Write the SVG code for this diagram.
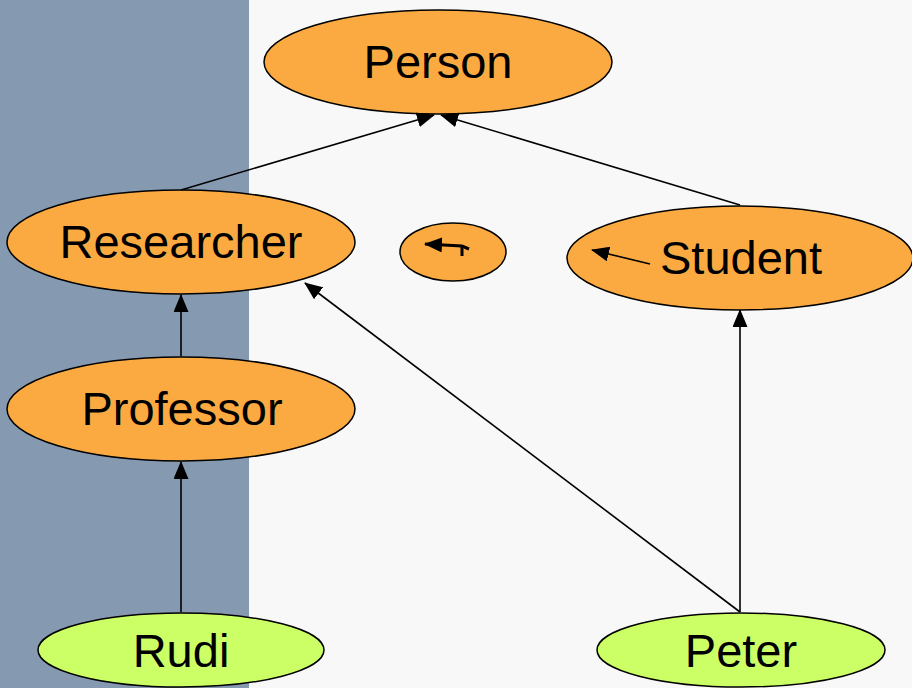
<svg xmlns="http://www.w3.org/2000/svg" width="912" height="688" viewBox="0 0 912 688">
<style>
.cls{fill:#fbaa42;stroke:#000;stroke-width:1.5}
.ind{fill:#ccff66;stroke:#000;stroke-width:1.5}
.lbl{font-family:"Liberation Sans",Arial,sans-serif;font-size:47px;fill:#000;text-anchor:middle}
.e{stroke:#000;stroke-width:1.6;fill:none}
.b{stroke:#000;stroke-width:3;fill:none}
</style>
<defs>
<marker id="ah" viewBox="0 0 18 15" refX="17" refY="7.5" markerWidth="18" markerHeight="15" markerUnits="userSpaceOnUse" orient="auto">
<path d="M0,0 L18,7.5 L0,15 Z" fill="#000"/>
</marker>
<marker id="ah2" viewBox="0 0 18 15" refX="17" refY="7.5" markerWidth="18" markerHeight="15" markerUnits="userSpaceOnUse" orient="auto">
<path d="M0,0 L18,7.5 L0,15 Z" fill="#000"/>
</marker>
</defs>
<rect x="0" y="0" width="912" height="688" fill="#f8f8f8"/>
<rect x="0" y="0" width="249" height="688" fill="#8599b1"/>
<g id="Person"><ellipse class="cls" cx="438" cy="62" rx="174" ry="52"/><text class="lbl" x="438" y="78">Person</text></g>
<g id="Researcher"><ellipse class="cls" cx="181" cy="242" rx="174" ry="52"/><text class="lbl" x="181" y="258">Researcher</text></g>
<g id="Professor"><ellipse class="cls" cx="181" cy="409" rx="174" ry="52"/><text class="lbl" x="182" y="425">Professor</text></g>
<g id="Student"><ellipse class="cls" cx="740" cy="258" rx="173" ry="52"/><text class="lbl" x="741" y="274">Student</text></g>
<g id="Small"><ellipse class="cls" cx="453" cy="252" rx="53" ry="29"/></g>
<g id="Rudi"><ellipse class="ind" cx="181" cy="650" rx="143" ry="37"/><text class="lbl" x="181" y="667">Rudi</text></g>
<g id="Peter"><ellipse class="ind" cx="741" cy="650" rx="144" ry="37"/><text class="lbl" x="741" y="667">Peter</text></g>
<g id="connectors">
<line class="e" x1="181" y1="190" x2="434" y2="115" marker-end="url(#ah)"/>
<line class="e" x1="740" y1="205" x2="441" y2="115" marker-end="url(#ah)"/>
<line class="e" x1="181" y1="356" x2="181" y2="295" marker-end="url(#ah)"/>
<line class="e" x1="181" y1="612" x2="181" y2="462" marker-end="url(#ah)"/>
<line class="e" x1="740" y1="612" x2="740" y2="310" marker-end="url(#ah)"/>
<line class="e" x1="740" y1="612" x2="305" y2="283" marker-end="url(#ah)"/>
<line class="e" x1="650" y1="264" x2="592" y2="250" marker-end="url(#ah)"/>
<path class="b" d="M469,249 L462,246 L425,244" marker-end="url(#ah2)"/>
<line class="b" x1="462" y1="245" x2="462" y2="256"/>
</g>
</svg>
